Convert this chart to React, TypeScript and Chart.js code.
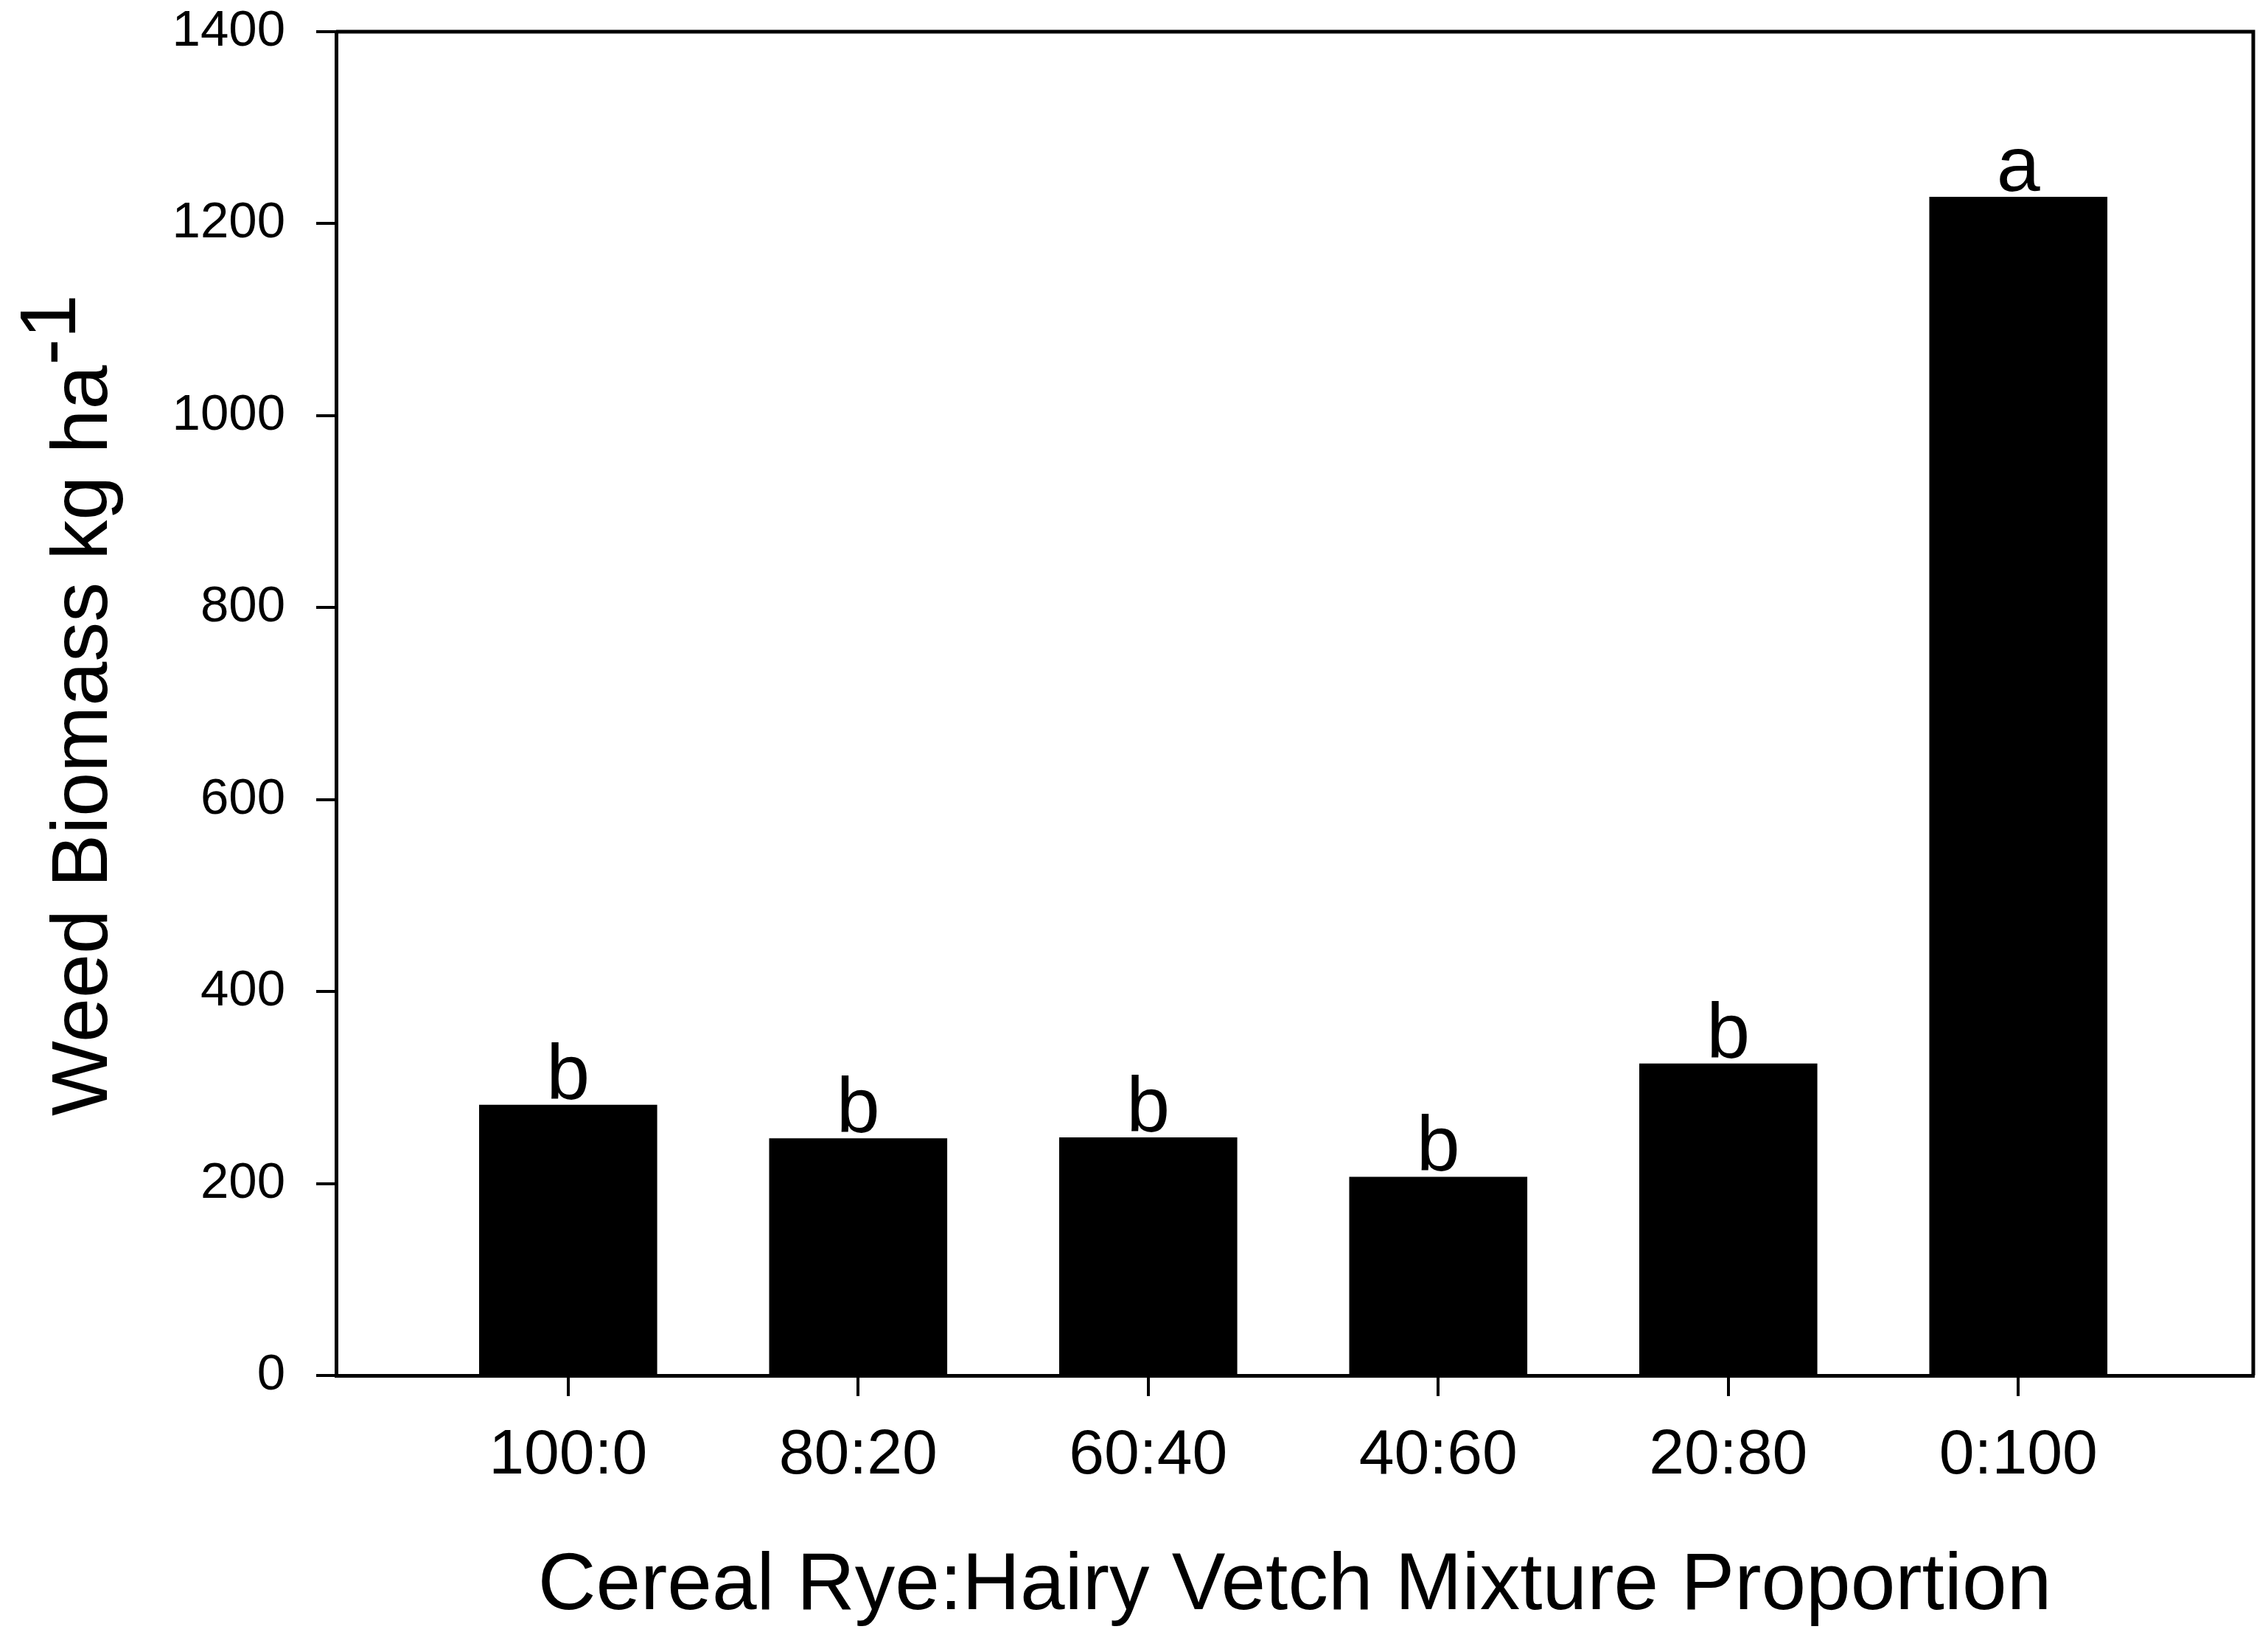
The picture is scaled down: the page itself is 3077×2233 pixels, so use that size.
import React, { useEffect, useRef } from "react";
import { Chart, registerables } from "chart.js";

Chart.register(...registerables);

const categories = ["100:0", "80:20", "60:40", "40:60", "20:80", "0:100"];
const biomass = [282, 247, 248, 207, 325, 1228];
const letters = ["b", "b", "b", "b", "b", "a"];
const yTickValues = [0, 200, 400, 600, 800, 1000, 1200, 1400];
const xTitle = "Cereal Rye:Hairy Vetch Mixture Proportion";
const yTitleMain = "Weed Biomass kg ha";
const yTitleSup = "-1";

const W = 3077;
const H = 2233;
const FONT = "'Liberation Sans', Arial, Helvetica, sans-serif";

const framePlugin = {
  id: "frame",
  afterDraw(chart: any) {
    const { ctx, chartArea: a } = chart;
    ctx.save();
    ctx.strokeStyle = "#000";
    ctx.lineWidth = 5;
    ctx.beginPath();
    ctx.moveTo(a.left, a.top);
    ctx.lineTo(a.right, a.top);
    ctx.lineTo(a.right, a.bottom);
    ctx.stroke();
    ctx.restore();
  },
};

const lettersPlugin = {
  id: "letters",
  afterDatasetsDraw(chart: any) {
    const { ctx } = chart;
    const meta = chart.getDatasetMeta(0);
    ctx.save();
    ctx.fillStyle = "#000";
    ctx.font = `106px ${FONT}`;
    ctx.textAlign = "center";
    ctx.textBaseline = "alphabetic";
    meta.data.forEach((el: any, i: number) => {
      ctx.fillText(letters[i], el.x, el.y - 8);
    });
    ctx.restore();
  },
};

const yTitlePlugin = {
  id: "ytitle",
  afterDraw(chart: any) {
    const { ctx } = chart;
    ctx.save();
    ctx.fillStyle = "#000";
    ctx.translate(145, 1514);
    ctx.rotate(-Math.PI / 2);
    ctx.textAlign = "left";
    ctx.textBaseline = "alphabetic";
    ctx.font = `108px ${FONT}`;
    ctx.fillText(yTitleMain, 0, 0);
    const w = ctx.measureText(yTitleMain).width;
    ctx.fillText(yTitleSup, w, -43);
    ctx.restore();
  },
};

export default function App() {
  const ref = useRef<HTMLCanvasElement | null>(null);

  useEffect(() => {
    if (!ref.current) return;
    const chart = new Chart(ref.current, {
      type: "bar",
      data: {
        datasets: [
          {
            data: biomass.map((v, i) => ({ x: i, y: v })),
            backgroundColor: "#000",
            borderWidth: 0,
            categoryPercentage: 1,
            barPercentage: 0.614,
          },
        ],
      },
      options: {
        animation: false,
        responsive: false,
        devicePixelRatio: 1,
        layout: { padding: { top: 43, right: 20, left: 0, bottom: 0 } },
        plugins: {
          legend: { display: false },
          tooltip: { enabled: false },
          title: { display: false },
        },
        scales: {
          x: {
            type: "linear",
            min: -0.8,
            max: 5.81,
            offset: false,
            afterFit(s: any) {
              s.height = H - 1866;
              s.paddingLeft = 0;
              s.paddingRight = 0;
            },
            afterBuildTicks(s: any) {
              s.ticks = categories.map((_, i) => ({ value: i }));
            },
            ticks: {
              color: "#000",
              font: { family: FONT, size: 86 },
              padding: 30,
              autoSkip: false,
              maxRotation: 0,
              callback: (v: any) => categories[Number(v)] ?? "",
            },
            grid: {
              display: true,
              offset: false,
              drawOnChartArea: false,
              drawTicks: true,
              tickLength: 28,
              color: "#000",
              lineWidth: 4,
            },
            border: { display: true, color: "#000", width: 5 },
            title: {
              display: true,
              text: xTitle,
              color: "#000",
              font: { family: FONT, size: 109 },
              padding: { top: 0, bottom: 15 },
            },
          },
          y: {
            type: "linear",
            min: 0,
            max: 1400,
            afterFit(s: any) {
              s.width = 456;
              s.paddingTop = 0;
              s.paddingBottom = 0;
            },
            afterBuildTicks(s: any) {
              s.ticks = yTickValues.map((v) => ({ value: v }));
            },
            ticks: {
              color: "#000",
              font: { family: FONT, size: 69 },
              padding: 42,
              callback: (v: any) => String(v),
            },
            grid: {
              display: true,
              drawOnChartArea: false,
              drawTicks: true,
              tickLength: 27,
              color: "#000",
              lineWidth: 4,
            },
            border: { display: true, color: "#000", width: 5 },
          },
        },
      },
      plugins: [framePlugin, lettersPlugin, yTitlePlugin],
    });
    return () => chart.destroy();
  }, []);

  return (
    <div
      style={{
        position: "fixed",
        left: 0,
        top: 0,
        width: W,
        height: H,
        background: "#fff",
      }}
    >
      <canvas ref={ref} width={W} height={H} style={{ width: W, height: H }} />
    </div>
  );
}
